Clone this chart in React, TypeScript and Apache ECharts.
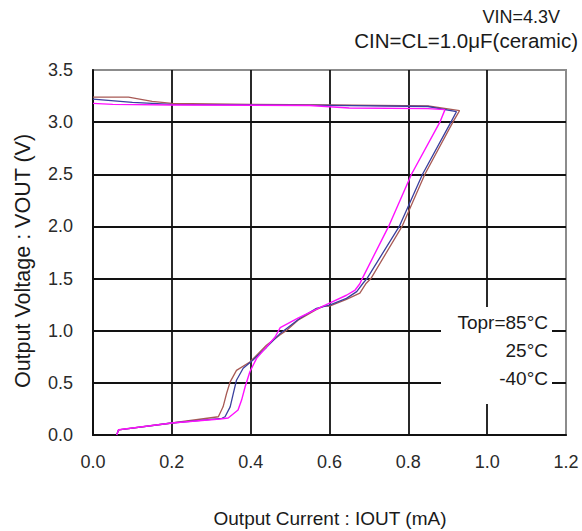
import React, { useEffect, useRef } from "react";
import * as echarts from "echarts";

const xTicks = [0, 0.2, 0.4, 0.6, 0.8, 1.0, 1.2];
const yTicks = [0, 0.5, 1.0, 1.5, 2.0, 2.5, 3.0, 3.5];

const curve85: [number, number][] = [
  [0, 3.24], [0.09, 3.24], [0.15, 3.2], [0.2, 3.18], [0.4, 3.17], [0.6, 3.165], [0.85, 3.155],
  [0.93, 3.11], [0.913, 3.0], [0.842, 2.5], [0.784, 2.0], [0.705, 1.5], [0.692, 1.45],
  [0.677, 1.36], [0.643, 1.3], [0.6, 1.235], [0.585, 1.235], [0.565, 1.2], [0.52, 1.1],
  [0.49, 1.0], [0.474, 0.96], [0.44, 0.86], [0.398, 0.7], [0.364, 0.62], [0.348, 0.51],
  [0.339, 0.4], [0.33, 0.27], [0.318, 0.175], [0.2, 0.115], [0.065, 0.05], [0.06, 0.0],
];

const curve25: [number, number][] = [
  [0, 3.22], [0.1, 3.19], [0.2, 3.17], [0.4, 3.165], [0.6, 3.16], [0.85, 3.15],
  [0.922, 3.1], [0.908, 3.0], [0.836, 2.5], [0.777, 2.0], [0.695, 1.5], [0.686, 1.46],
  [0.669, 1.375], [0.643, 1.31], [0.6, 1.245], [0.567, 1.215], [0.525, 1.12], [0.474, 0.97],
  [0.44, 0.84], [0.406, 0.72], [0.381, 0.64], [0.364, 0.525], [0.356, 0.4], [0.348, 0.27],
  [0.335, 0.175], [0.327, 0.16], [0.2, 0.115], [0.065, 0.05], [0.06, 0.0],
];

const curveM40: [number, number][] = [
  [0, 3.18], [0.05, 3.17], [0.2, 3.165], [0.55, 3.16], [0.65, 3.135], [0.85, 3.13],
  [0.893, 3.12], [0.88, 3.0], [0.808, 2.5], [0.75, 2.0], [0.683, 1.5], [0.677, 1.45],
  [0.665, 1.39], [0.643, 1.34], [0.6, 1.265], [0.558, 1.19], [0.52, 1.12], [0.475, 1.03],
  [0.462, 0.94], [0.415, 0.735], [0.398, 0.607], [0.386, 0.463], [0.377, 0.335],
  [0.368, 0.24], [0.343, 0.163], [0.322, 0.153], [0.2, 0.115], [0.065, 0.05], [0.06, 0.0],
];

const legendLabels = ["Topr=85°C", "25°C", "-40°C"];
const conditionLabels = ["VIN=4.3V", "CIN=CL=1.0μF(ceramic)"];
const xTitle = "Output Current : IOUT (mA)";
const yTitle = "Output Voltage : VOUT (V)";

const FONT = "'Liberation Sans', Arial, sans-serif";

export default function App() {
  const ref = useRef<HTMLDivElement>(null);
  useEffect(() => {
    if (!ref.current) return;
    const chart = echarts.init(ref.current, null, { renderer: "svg" });
    const textStyle = (size: number) => ({ fontFamily: FONT, fontSize: size, fill: "#1a1a1a" });
    chart.setOption({
      animation: false,
      backgroundColor: "#ffffff",
      grid: {
        left: 93,
        right: 16,
        top: 70,
        bottom: 96,
        show: true,
        borderColor: "#8c8c8c",
        borderWidth: 2,
        backgroundColor: "transparent",
      },
      xAxis: {
        type: "value",
        min: xTicks[0],
        max: xTicks[xTicks.length - 1],
        interval: 0.2,
        axisLine: { show: true, onZero: false, lineStyle: { color: "#111", width: 2 } },
        axisTick: { show: false },
        axisLabel: {
          margin: 18,
          fontFamily: FONT,
          fontSize: 18,
          color: "#2a2a2a",
          formatter: (v: number) => v.toFixed(1),
        },
        splitLine: { show: true, showMaxLine: false, lineStyle: { color: "#121212", width: 1.8 } },
      },
      yAxis: {
        type: "value",
        min: yTicks[0],
        max: yTicks[yTicks.length - 1],
        interval: 0.5,
        axisLine: { show: true, onZero: false, lineStyle: { color: "#111", width: 2 } },
        axisTick: { show: false },
        axisLabel: {
          margin: 20,
          fontFamily: FONT,
          fontSize: 18,
          color: "#2a2a2a",
          formatter: (v: number) => v.toFixed(1),
        },
        splitLine: { show: true, showMaxLine: false, lineStyle: { color: "#121212", width: 1.8 } },
      },
      series: [
        {
          name: legendLabels[0],
          type: "line",
          data: curve85,
          showSymbol: false,
          symbol: "none",
          lineStyle: { color: "#a85a55", width: 1.3 },
          z: 3,
        },
        {
          name: legendLabels[1],
          type: "line",
          data: curve25,
          showSymbol: false,
          symbol: "none",
          lineStyle: { color: "#3a3f9e", width: 1.3 },
          z: 4,
        },
        {
          name: legendLabels[2],
          type: "line",
          data: curveM40,
          showSymbol: false,
          symbol: "none",
          lineStyle: { color: "#ff10ff", width: 1.4 },
          z: 5,
        },
      ],
      graphic: [
        {
          type: "rect",
          z: 50,
          shape: { x: 441, y: 307, width: 111, height: 97 },
          style: { fill: "#ffffff" },
        },
        {
          type: "text",
          z: 60,
          x: 548,
          y: 322,
          style: { ...textStyle(19), text: legendLabels[0], align: "right", verticalAlign: "middle" },
        },
        {
          type: "text",
          z: 60,
          x: 548,
          y: 350,
          style: { ...textStyle(19), text: legendLabels[1], align: "right", verticalAlign: "middle" },
        },
        {
          type: "text",
          z: 60,
          x: 548,
          y: 378,
          style: { ...textStyle(19), text: legendLabels[2], align: "right", verticalAlign: "middle" },
        },
        {
          type: "text",
          z: 60,
          x: 560,
          y: 17,
          style: { ...textStyle(18), text: conditionLabels[0], align: "right", verticalAlign: "middle" },
        },
        {
          type: "text",
          z: 60,
          x: 578,
          y: 40,
          style: { ...textStyle(20.5), text: conditionLabels[1], align: "right", verticalAlign: "middle" },
        },
        {
          type: "text",
          z: 60,
          x: 330,
          y: 518,
          style: { ...textStyle(19), text: xTitle, align: "center", verticalAlign: "middle" },
        },
        {
          type: "text",
          z: 60,
          x: 23,
          y: 261,
          rotation: Math.PI / 2,
          style: { ...textStyle(21.5), text: yTitle, align: "center", verticalAlign: "middle" },
        },
      ],
    });
    return () => chart.dispose();
  }, []);
  return <div ref={ref} style={{ width: 582, height: 531, position: "absolute", left: 0, top: 0 }} />;
}
